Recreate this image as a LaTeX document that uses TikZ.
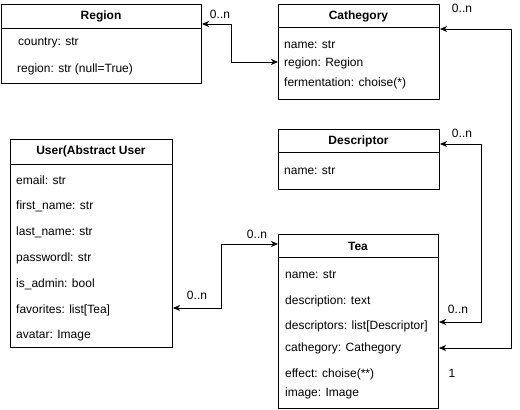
\documentclass[tikz,border=0pt]{standalone}
\usepackage{fontspec}
\setmainfont{Liberation Sans}
\usetikzlibrary{arrows.meta}
\begin{document}
\begin{tikzpicture}[x=1pt,y=-1pt,
 box/.style={draw=black, line width=1pt, rectangle, anchor=north west, inner sep=0pt},
 head/.style={font=\fontsize{12}{14}\selectfont\bfseries, inner sep=0pt},
 field/.style={font=\fontsize{12}{14}\selectfont, anchor=west, inner sep=0pt},
 lbl/.style={font=\fontsize{12}{14}\selectfont, inner sep=0pt},
 sep/.style={line width=1pt},
 link/.style={line width=1pt, {Stealth[length=7pt,width=6pt,inset=2pt]}-{Stealth[length=7pt,width=6pt,inset=2pt]}},
]
\useasboundingbox[fill=white] (0,0) rectangle (520,410);

% Region
\node[box, minimum width=200pt, minimum height=79pt] (region) at (1,4) {};
\node[head] (regionh) at (101,16) {Region};
\draw[sep] (region.west |- 0,28) -- (region.east |- 0,28);
\node[field] (regcountry) at (18,43) {country: str};
\node[field] (regregion) at (17,69) {region: str (null=True)};

% Cathegory
\node[box, minimum width=161pt, minimum height=95pt] (cat) at (278,4) {};
\node[head] (cath) at (358.5,16) {Cathegory};
\draw[sep] (cat.west |- 0,27) -- (cat.east |- 0,27);
\node[field] (catname) at (284,45) {name: str};
\node[field] (catregion) at (284,63) {region: Region};
\node[field] (catferm) at (284,83) {fermentation: choise(*)};

% Descriptor
\node[box, minimum width=161pt, minimum height=60pt] (desc) at (278,129) {};
\node[head] (desch) at (358.5,141) {Descriptor};
\draw[sep] (desc.west |- 0,152) -- (desc.east |- 0,152);
\node[field] (descname) at (284,171) {name: str};

% User
\node[box, minimum width=162pt, minimum height=208pt] (user) at (10,139) {};
\node[head] (userh) at (91,151) {User(Abstract User};
\draw[sep] (user.west |- 0,164) -- (user.east |- 0,164);
\node[field] (uemail) at (16,180) {email: str};
\node[field] (ufirst) at (16,206) {first\_name: str};
\node[field] (ulast) at (16,232) {last\_name: str};
\node[field] (upass) at (16,258) {passwordl: str};
\node[field] (uadmin) at (16,284) {is\_admin: bool};
\node[field] (ufav) at (16,310) {favorites: list[Tea]};
\node[field] (uavatar) at (16,336) {avatar: Image};

% Tea
\node[box, minimum width=160pt, minimum height=174pt] (tea) at (278,234) {};
\node[head] (teah) at (358,246) {Tea};
\draw[sep] (tea.west |- 0,257) -- (tea.east |- 0,257);
\node[field] (teaname) at (285,275) {name: str};
\node[field] (teadescr) at (285,301) {description: text};
\node[field] (teadescs) at (285,326) {descriptors: list[Descriptor]};
\node[field] (teacat) at (285,348) {cathegory: Cathegory};
\node[field] (teaeff) at (285,374) {effect: choise(**)};
\node[field] (teaimg) at (285,393) {image: Image};

% ports
\coordinate (pRegion) at (region.east |- 0,24);
\coordinate (pCatL) at (cat.west |- 0,62);
\coordinate (pCatR) at (cat.east |- 0,29);
\coordinate (pDesc) at (desc.east |- 0,144);
\coordinate (pTeaDesc) at (tea.east |- 0,322);
\coordinate (pTeaCat) at (tea.east |- 0,348);
\coordinate (pTeaL) at (tea.west |- 0,244);
\coordinate (pUser) at (user.east |- 0,308);

% connectors
\draw[link] (pRegion) -| (231,62) -- (pCatL);
\draw[link] (pCatR) -| (511,348) -- (pTeaCat);
\draw[link] (pDesc) -| (481,322) -- (pTeaDesc);
\draw[link] (pUser) -| (221,244) -- (pTeaL);

% multiplicities
\node[lbl] (m1) at (220,14) {0..n};
\node[lbl] (m2) at (462,8) {0..n};
\node[lbl] (m3) at (462,133) {0..n};
\node[lbl] (m4) at (458,309) {0..n};
\node[lbl] (m5) at (452,373) {1};
\node[lbl] (m6) at (257,234) {0..n};
\node[lbl] (m7) at (197,295) {0..n};
\end{tikzpicture}
\end{document}
